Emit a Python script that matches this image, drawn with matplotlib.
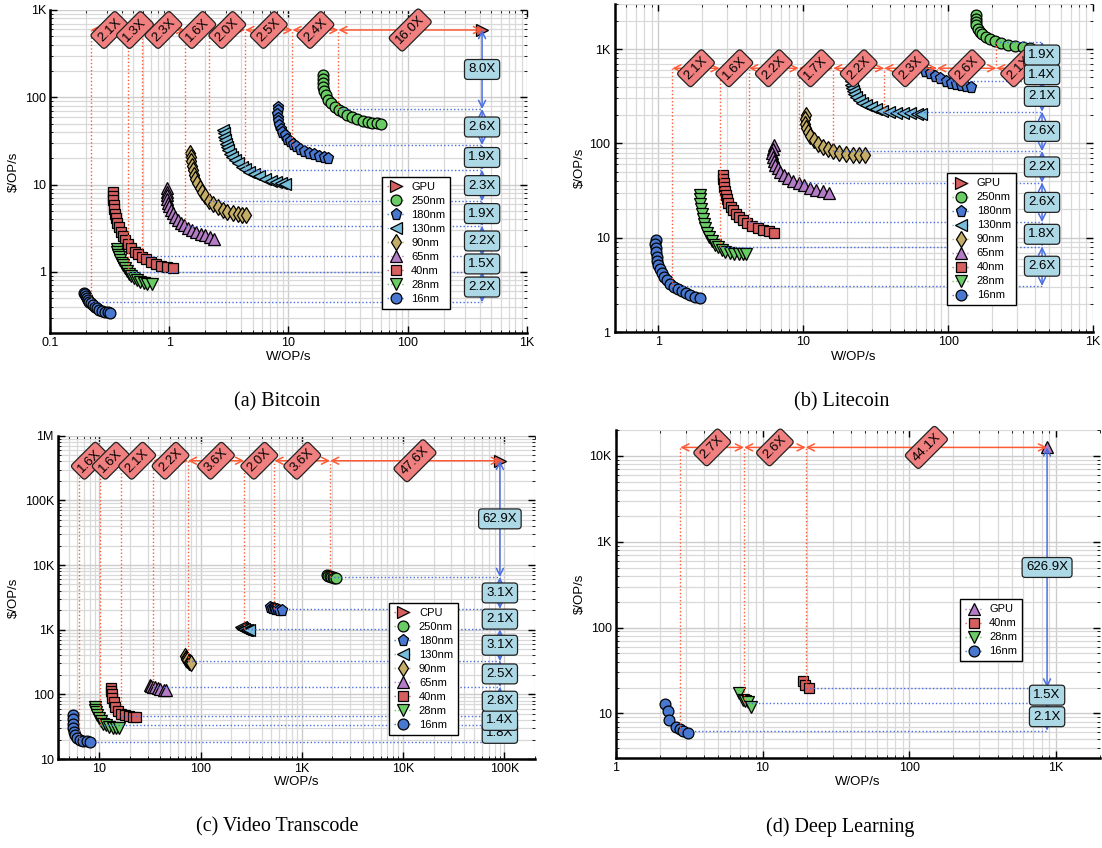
import numpy as np
import matplotlib
matplotlib.use("Agg")
import matplotlib.pyplot as plt
from matplotlib.ticker import LogLocator, FuncFormatter, NullFormatter

plt.rcParams["font.family"] = ["Liberation Sans", "DejaVu Sans"]

# ---------------------------------------------------------------- Bitcoin
BTC_REF = ("GPU", 420.0, 590.0)
BTC_NODES = ["250nm", "180nm", "130nm", "90nm", "65nm", "40nm", "28nm", "16nm"]
BTC_BEST_W = [26.2, 10.8, 4.33, 2.17, 1.36, 0.588, 0.453, 0.219]
BTC_BEST_C = [73.5, 28.4, 14.7, 6.45, 3.36, 1.52, 1.0, 0.449]

BTC_250_W = [19.6, 19.4, 19.4, 19.6, 20.0, 20.7, 21.6, 22.9, 24.5, 26.3, 28.5, 31.2, 34.3, 37.8, 41.8, 46.0, 50.5, 55.0, 59.4]
BTC_250_C = [180, 162, 146, 131, 117, 105, 94, 85, 77.5, 72.0, 67.0, 62.5, 58.8, 55.8, 53.5, 51.8, 50.8, 50.2, 49.9]
BTC_180_W = [8.20, 8.10, 8.08, 8.12, 8.22, 8.38, 8.60, 8.90, 9.27, 9.72, 10.25, 10.85, 11.6, 12.5, 13.6, 14.9, 16.4, 18.1, 19.9, 21.6]
BTC_180_C = [78.0, 71.0, 64.5, 58.5, 53.0, 48.2, 43.8, 40.0, 36.6, 33.6, 31.2, 29.2, 27.4, 25.9, 24.5, 23.3, 22.3, 21.4, 20.6, 20.0]
BTC_130_W = [2.84, 2.86, 2.88, 2.92, 2.97, 3.04, 3.13, 3.24, 3.38, 3.56, 3.78, 4.05, 4.33, 4.70, 5.15, 5.70, 6.35, 7.10, 7.90, 8.70, 9.40]
BTC_130_C = [42.2, 38.5, 35.0, 32.0, 29.2, 26.7, 24.6, 22.6, 20.8, 19.1, 17.5, 16.1, 14.9, 14.0, 13.1, 12.4, 11.7, 11.1, 10.6, 10.3, 10.1]
BTC_90_W = [1.50, 1.51, 1.52, 1.54, 1.57, 1.61, 1.66, 1.72, 1.80, 1.89, 2.00, 2.17, 2.35, 2.55, 2.80, 3.07, 3.40, 3.74, 4.10, 4.42]
BTC_90_C = [22.9, 20.5, 18.4, 16.4, 14.6, 13.0, 11.6, 10.3, 9.2, 8.3, 7.45, 6.50, 5.95, 5.50, 5.15, 4.90, 4.70, 4.58, 4.52, 4.49]
BTC_65_W = [0.951, 0.952, 0.956, 0.965, 0.980, 1.00, 1.03, 1.07, 1.12, 1.18, 1.25, 1.33, 1.43, 1.55, 1.68, 1.83, 2.00, 2.18, 2.37]
BTC_65_C = [9.08, 8.30, 7.55, 6.85, 6.20, 5.65, 5.15, 4.70, 4.30, 3.96, 3.67, 3.42, 3.22, 3.04, 2.89, 2.75, 2.62, 2.50, 2.38]
BTC_40_W = [0.335, 0.336, 0.338, 0.341, 0.345, 0.350, 0.357, 0.366, 0.377, 0.391, 0.408, 0.428, 0.452, 0.480, 0.512, 0.548, 0.588, 0.640, 0.700, 0.770, 0.850, 0.950, 1.07]
BTC_40_C = [8.30, 7.40, 6.60, 5.85, 5.20, 4.62, 4.10, 3.65, 3.25, 2.90, 2.58, 2.30, 2.06, 1.86, 1.70, 1.59, 1.50, 1.40, 1.31, 1.24, 1.18, 1.14, 1.12]
BTC_28_W = [0.362, 0.368, 0.374, 0.381, 0.390, 0.399, 0.410, 0.423, 0.439, 0.458, 0.480, 0.505, 0.535, 0.570, 0.610, 0.655, 0.711]
BTC_28_C = [1.83, 1.70, 1.58, 1.48, 1.38, 1.28, 1.19, 1.10, 1.02, 0.95, 0.89, 0.84, 0.80, 0.77, 0.748, 0.735, 0.726]
BTC_16_W = [0.192, 0.195, 0.199, 0.203, 0.208, 0.214, 0.221, 0.229, 0.238, 0.248, 0.260, 0.274, 0.290, 0.305, 0.318]
BTC_16_C = [0.578, 0.552, 0.525, 0.500, 0.476, 0.455, 0.435, 0.415, 0.398, 0.383, 0.370, 0.360, 0.351, 0.345, 0.341]

# ---------------------------------------------------------------- Litecoin
LTC_REF = ("GPU", 445.0, 626.0)
LTC_NODES = BTC_NODES
LTC_BEST_W = [215, 84.0, 36.2, 16.1, 9.31, 4.22, 2.65, 1.25]
LTC_BEST_C = [1194, 458, 217, 83.0, 38.4, 14.7, 8.1, 3.1]

LTC_250_W = [157, 155, 155, 157, 160, 165, 172, 182, 195, 212, 232, 258, 290, 330, 370]
LTC_250_C = [2300, 2100, 1930, 1780, 1650, 1530, 1430, 1345, 1270, 1205, 1150, 1105, 1068, 1042, 1025]
LTC_180_W = [60, 64, 69, 75, 81, 88, 96, 104, 113, 123, 133, 143]
LTC_180_C = [700, 640, 590, 553, 515, 488, 462, 442, 426, 413, 404, 399]
LTC_130_W = [21.5, 21.4, 21.6, 21.9, 22.4, 23.1, 24.1, 25.4, 27.1, 29.3, 32.0, 35.2, 39.0, 43.5, 48.5, 54.5, 61.0, 65.0]
LTC_130_C = [455, 420, 388, 358, 332, 308, 288, 270, 254, 241, 230, 222, 216, 212, 209.5, 208, 207, 207]
LTC_90_W = [10.4, 10.3, 10.35, 10.5, 10.8, 11.2, 11.8, 12.6, 13.6, 14.8, 16.1, 17.8, 19.8, 22.0, 24.4, 26.8]
LTC_90_C = [200, 180, 162, 146, 132, 119, 108, 99, 92, 86.5, 83.0, 79.5, 77.2, 75.8, 75.0, 74.8]
LTC_65_W = [6.27, 6.15, 6.12, 6.15, 6.25, 6.42, 6.65, 6.95, 7.35, 7.85, 8.50, 9.31, 10.2, 11.2, 12.3, 13.6, 15.0]
LTC_65_C = [96, 87, 79, 72, 65.5, 59.5, 54.5, 50.0, 46.0, 42.8, 40.2, 38.2, 36.0, 34.0, 32.4, 31.0, 30.1]
LTC_40_W = [2.81, 2.81, 2.82, 2.84, 2.87, 2.91, 2.97, 3.05, 3.15, 3.28, 3.43, 3.62, 3.85, 4.12, 4.45, 4.85, 5.30, 5.78, 6.27]
LTC_40_C = [46.4, 42.0, 38.0, 34.5, 31.2, 28.3, 25.7, 23.4, 21.3, 19.5, 17.9, 16.5, 15.3, 14.3, 13.5, 12.8, 12.2, 11.7, 11.4]
LTC_28_W = [1.94, 1.94, 1.95, 1.97, 1.99, 2.02, 2.06, 2.11, 2.17, 2.25, 2.34, 2.45, 2.58, 2.73, 2.90, 3.10, 3.33, 3.58, 3.83, 4.06]
LTC_28_C = [28.5, 25.5, 22.8, 20.3, 18.0, 16.0, 14.2, 12.6, 11.3, 10.1, 9.2, 8.5, 7.95, 7.50, 7.17, 6.95, 6.82, 6.74, 6.70, 6.69]
LTC_16_W = [0.960, 0.955, 0.957, 0.962, 0.972, 0.985, 1.00, 1.03, 1.06, 1.10, 1.15, 1.21, 1.28, 1.36, 1.45, 1.55, 1.66, 1.78, 1.94]
LTC_16_C = [9.50, 8.60, 7.80, 7.05, 6.35, 5.75, 5.20, 4.70, 4.25, 3.88, 3.55, 3.27, 3.04, 2.86, 2.71, 2.58, 2.47, 2.38, 2.29]

# ---------------------------------------------------------------- Video transcode
VT_REF = ("CPU", 90400.0, 410000.0)
VT_NODES = BTC_NODES
VT_BEST_W = [1900, 535, 269, 74.8, 34.0, 16.4, 10.2, 6.35]
VT_BEST_C = [6520, 2100, 1010, 327, 131, 46.8, 33.4, 18.6]

VT_250_W = [1780, 1830, 1890, 1950, 2020, 2100, 2180]
VT_250_C = [7000, 6880, 6750, 6620, 6500, 6380, 6250]
VT_180_W = [490, 505, 525, 545, 570, 600, 630]
VT_180_C = [2250, 2200, 2140, 2100, 2060, 2030, 2000]
VT_130_W = [250, 256, 263, 271, 280, 290, 300]
VT_130_C = [1090, 1060, 1035, 1015, 1000, 990, 980]
VT_90_W = [70, 71, 72.5, 74, 76, 78.5, 81]
VT_90_C = [385, 365, 348, 335, 322, 312, 303]
VT_65_W = [31.5, 32.5, 33.8, 35.5, 37.5, 40, 43, 46]
VT_65_C = [140, 136, 132, 128, 125, 121, 118, 116]
VT_40_W = [13.1, 13.1, 13.2, 13.4, 13.8, 14.4, 15.3, 16.5, 18.0, 19.8, 21.5, 23.0]
VT_40_C = [124, 112, 100, 87, 75, 64, 56, 50.5, 47.5, 46, 45.3, 45]
VT_28_W = [8.95, 9.1, 9.3, 9.55, 9.9, 10.3, 10.8, 11.5, 12.4, 13.5, 14.6, 15.6]
VT_28_C = [64, 58, 53, 47.5, 42.5, 38.5, 35.3, 33.0, 31.3, 30.3, 29.9, 29.8]
VT_16_W = [5.47, 5.45, 5.47, 5.52, 5.62, 5.80, 6.05, 6.40, 6.90, 7.50, 8.10]
VT_16_C = [48, 41, 35, 30, 26.5, 23.5, 21.3, 20.0, 19.2, 18.8, 18.5]

# ---------------------------------------------------------------- Deep learning
DL_REF = ("GPU", 869.0, 12538.0)
DL_NODES = ["40nm", "28nm", "16nm"]
DL_BEST_W = [19.7, 7.48, 2.75]
DL_BEST_C = [20.0, 13.3, 6.3]

DL_40_W = [19.0, 19.5, 20.7]
DL_40_C = [23.9, 21.3, 19.9]
DL_28_W = [6.95, 7.40, 7.65, 7.90, 8.40]
DL_28_C = [17.1, 14.3, 13.8, 13.4, 12.0]
DL_16_W = [2.16, 2.26, 2.31, 2.58, 2.72, 2.88, 3.12]
DL_16_C = [12.7, 10.6, 8.4, 6.9, 6.5, 6.3, 5.9]

# ---------------------------------------------------------------- styling
BLUE, GREEN, RED, PURPLE, TAN, CYAN = ("#4878CF", "#6ACC65", "#D65F5F",
                                       "#B47CC7", "#C4AD66", "#77BEDB")
STYLE = {
    "250nm": ("o", GREEN, 7.8),
    "180nm": ("p", BLUE, 8.3),
    "130nm": ("<", CYAN, 8.3),
    "90nm": ("d", TAN, 8.3),
    "65nm": ("^", PURPLE, 8.3),
    "40nm": ("s", RED, 7.3),
    "28nm": ("v", GREEN, 8.3),
    "16nm": ("o", BLUE, 7.8),
}
ARROW_RED = "#FF5A36"
ARROW_BLUE = "#4A6FE3"
BOX_RED = "#F08080"
BOX_BLUE = "#ADD8E6"


def kfmt(v, pos):
    if v >= 1e6:
        return f"{v / 1e6:g}M"
    if v >= 1e3:
        return f"{v / 1e3:g}K"
    return f"{v:g}"


def setup_axes(ax, xlim, ylim, xlab_y, ylab_x):
    ax.set_xscale("log")
    ax.set_yscale("log")
    ax.set_xlim(*xlim)
    ax.set_ylim(*ylim)
    for axis in (ax.xaxis, ax.yaxis):
        axis.set_major_locator(LogLocator(10, numticks=20))
        axis.set_minor_locator(LogLocator(10, subs=np.arange(2, 10), numticks=200))
        axis.set_major_formatter(FuncFormatter(kfmt))
        axis.set_minor_formatter(NullFormatter())
    ax.grid(True, which="major", color="#cccccc", lw=1.0)
    ax.grid(True, which="minor", color="#d9d9d9", lw=0.9)
    ax.set_axisbelow(True)
    ax.tick_params(which="both", direction="in", top=True, right=True,
                   labelsize=9, pad=3, colors="black")
    ax.tick_params(which="major", length=5, width=1.0)
    ax.tick_params(which="minor", length=2.5, width=0.6)
    for side in ("top", "right"):
        ax.spines[side].set_visible(False)
    for side in ("left", "bottom"):
        ax.spines[side].set_linewidth(1.8)
    ax.set_xlabel("W/OP/s", fontsize=9.5)
    ax.set_ylabel(r"\$/OP/s", fontsize=9.5)
    ax.xaxis.set_label_coords(0.5, xlab_y)
    ax.yaxis.set_label_coords(ylab_x, 0.5)
    ax.xaxis.label.set_va("center")
    ax.yaxis.label.set_va("center")


def draw_panel(ax, ref, ref_style, series, best_w, best_c):
    ref_name, ref_w, ref_c = ref
    handles = []
    m, col, ms = ref_style
    h, = ax.plot([ref_w], [ref_c], ls=":", lw=1.0, marker=m, color=col, ms=ms,
                 mec="k", mew=0.9, zorder=3.5, label=ref_name)
    handles.append(h)
    for name, w, c in series:
        m, col, ms = STYLE[name]
        h, = ax.plot(w, c, ls=":", lw=1.0, marker=m, color=col, ms=ms,
                     mec="k", mew=0.9, zorder=3, label=name)
        handles.append(h)

    # guide lines from each node's chosen design point
    for bw, bc in zip(best_w, best_c):
        ax.plot([bw, bw], [bc, ref_c], ls=(0, (1, 1.6)), color=ARROW_RED,
                lw=1.0, zorder=4)
        ax.plot([bw, ref_w], [bc, bc], ls=(0, (1, 1.6)), color=ARROW_BLUE,
                lw=1.0, zorder=4)

    arrow_kw = dict(arrowstyle="<->,head_length=0.5,head_width=0.25",
                    lw=1.1, shrinkA=0, shrinkB=0, mutation_scale=10)

    xs = sorted(list(best_w) + [ref_w])
    for a, b in zip(xs[:-1], xs[1:]):
        ax.annotate("", xy=(b, ref_c), xytext=(a, ref_c),
                    arrowprops=dict(color=ARROW_RED, **arrow_kw), zorder=5)
        ax.text(np.sqrt(a * b), ref_c, f"{b / a:.1f}X", rotation=45,
                ha="center", va="center", fontsize=9.5, zorder=6,
                bbox=dict(boxstyle="round,pad=0.3,rounding_size=0.25",
                          fc=BOX_RED, ec="#222222", lw=0.9))

    ys = sorted(list(best_c) + [ref_c])
    for a, b in zip(ys[:-1], ys[1:]):
        ax.annotate("", xy=(ref_w, b), xytext=(ref_w, a),
                    arrowprops=dict(color=ARROW_BLUE, **arrow_kw), zorder=5)
        ax.text(ref_w, np.sqrt(a * b), f"{b / a:.1f}X",
                ha="center", va="center", fontsize=9.5, zorder=6,
                bbox=dict(boxstyle="round,pad=0.3,rounding_size=0.25",
                          fc=BOX_BLUE, ec="#222222", lw=0.9))

    leg = ax.legend(handles=handles, loc="upper right",
                    bbox_to_anchor=(0.839, 0.484), fontsize=8,
                    fancybox=False, framealpha=1.0, edgecolor="black",
                    handlelength=1.6, handletextpad=0.6, labelspacing=0.36,
                    borderpad=0.45, borderaxespad=0.0)
    leg.get_frame().set_linewidth(1.0)
    leg.set_zorder(10)


fig = plt.figure(figsize=(11.02, 8.48), dpi=100)

# (a) Bitcoin
ax_a = fig.add_axes([0.04537, 0.60743, 0.43285, 0.38078])
setup_axes(ax_a, (0.1, 1000), (0.2, 1000), -0.074, -0.076)
draw_panel(ax_a, BTC_REF, (">", RED, 8.3),
           [("250nm", BTC_250_W, BTC_250_C), ("180nm", BTC_180_W, BTC_180_C),
            ("130nm", BTC_130_W, BTC_130_C), ("90nm", BTC_90_W, BTC_90_C),
            ("65nm", BTC_65_W, BTC_65_C), ("40nm", BTC_40_W, BTC_40_C),
            ("28nm", BTC_28_W, BTC_28_C), ("16nm", BTC_16_W, BTC_16_C)],
           BTC_BEST_W, BTC_BEST_C)

# (b) Litecoin
ax_b = fig.add_axes([0.55780, 0.60814, 0.43403, 0.38715])
setup_axes(ax_b, (0.5, 1000), (1, 3000), -0.074, -0.0725)
draw_panel(ax_b, LTC_REF, (">", RED, 8.3),
           [("250nm", LTC_250_W, LTC_250_C), ("180nm", LTC_180_W, LTC_180_C),
            ("130nm", LTC_130_W, LTC_130_C), ("90nm", LTC_90_W, LTC_90_C),
            ("65nm", LTC_65_W, LTC_65_C), ("40nm", LTC_40_W, LTC_40_C),
            ("28nm", LTC_28_W, LTC_28_C), ("16nm", LTC_16_W, LTC_16_C)],
           LTC_BEST_W, LTC_BEST_C)

# (c) Video transcode
ax_c = fig.add_axes([0.05263, 0.10495, 0.43267, 0.38125])
setup_axes(ax_c, (3.9, 2e5), (10, 1e6), -0.070, -0.093)
draw_panel(ax_c, VT_REF, (">", RED, 8.3),
           [("250nm", VT_250_W, VT_250_C), ("180nm", VT_180_W, VT_180_C),
            ("130nm", VT_130_W, VT_130_C), ("90nm", VT_90_W, VT_90_C),
            ("65nm", VT_65_W, VT_65_C), ("40nm", VT_40_W, VT_40_C),
            ("28nm", VT_28_W, VT_28_C), ("16nm", VT_16_W, VT_16_C)],
           VT_BEST_W, VT_BEST_C)

# (d) Deep learning
ax_d = fig.add_axes([0.55880, 0.10578, 0.43956, 0.38715])
setup_axes(ax_d, (1, 2000), (3, 20000), -0.071, -0.074)
draw_panel(ax_d, DL_REF, ("^", PURPLE, 8.3),
           [("40nm", DL_40_W, DL_40_C), ("28nm", DL_28_W, DL_28_C),
            ("16nm", DL_16_W, DL_16_C)],
           DL_BEST_W, DL_BEST_C)

caption_kw = dict(ha="center", va="center", fontsize=14.5,
                  family=["Liberation Serif", "DejaVu Serif"])
fig.text(277 / 1102, 1 - 402 / 848, "(a) Bitcoin", **caption_kw)
fig.text(842 / 1102, 1 - 402 / 848, "(b) Litecoin", **caption_kw)
fig.text(277 / 1102, 1 - 827 / 848, "(c) Video Transcode", **caption_kw)
fig.text(840 / 1102, 1 - 827 / 848, "(d) Deep Learning", **caption_kw)

fig.savefig("out.png", dpi=100)
